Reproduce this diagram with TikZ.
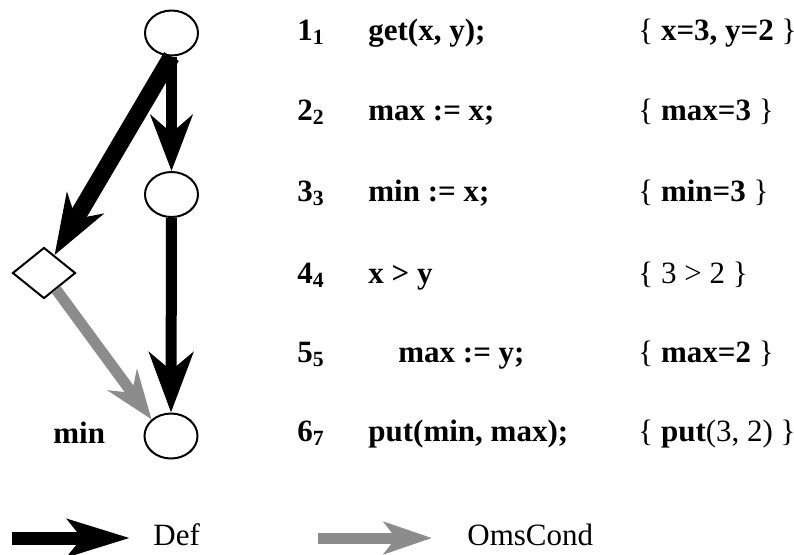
\documentclass[tikz,border=0pt]{standalone}
\usepackage{fontspec}
\setmainfont{Liberation Serif}
\usetikzlibrary{arrows.meta,shapes.geometric}

\tikzset{
	txt/.style={inner sep=0pt,font=\fontsize{15.5}{18}\selectfont},
	code/.style={txt,anchor=base west,font=\fontsize{15.5}{18}\selectfont\bfseries},
	stmt/.style={ellipse,draw,line width=1pt,minimum width=26.5pt,minimum height=22.5pt,inner sep=0pt},
	cond/.style={diamond,draw,line width=1pt,minimum width=31.5pt,minimum height=25.5pt,inner sep=0pt},
	def/.style={line width=5.25pt,-{Stealth[length=28pt,width=21pt,inset=9pt]}},
	oms/.style={black!45,line width=5.5pt,-{Stealth[length=24.5pt,width=18pt,inset=8pt]}}
}

\begin{document}
\begin{tikzpicture}[x=0.5pt,y=-0.5pt]
		\useasboundingbox (0,0) rectangle (794,554);

		% >>> nodes of the graph
		\node[stmt] (e1) at (171.5,33) {};
		\node[stmt] (e3) at (171.5,194.5) {};
		\node[cond] (d4) at (44,273) {};
		\node[stmt] (e6) at (171,436) {};
		\node[code] (lmin) at (53,443) {min};
		% <<< nodes of the graph

		% >>> def edges
		\draw[def] (e1.south) -- (e3.north);
		\draw[def,line width=8.5pt,-{Stealth[length=30pt,width=21pt,inset=9pt]}] (e1.south) -- (d4);
		\draw[def,line width=5.5pt,-{Stealth[length=30pt,width=22pt,inset=9pt]}] (e3.south) -- (e6.north);
		% <<< def edges

		% >>> omscond edge
		\draw[oms] (d4) -- (e6.north west);
		% <<< omscond edge

		% >>> program lines
		\node[code] (n1) at (297,40) {1\textsubscript{1}};
		\node[code] (s1) at (368,40) {get(x, y);};
		\node[code] (a1) at (638,40) {\mdseries\{ \bfseries x=3, y=2 \mdseries\}};

		\node[code] (n2) at (297,120) {2\textsubscript{2}};
		\node[code] (s2) at (368,120) {max := x;};
		\node[code] (a2) at (638,120) {\mdseries\{ \bfseries max=3 \mdseries\}};

		\node[code] (n3) at (297,201) {3\textsubscript{3}};
		\node[code] (s3) at (368,201) {min := x;};
		\node[code] (a3) at (638,201) {\mdseries\{ \bfseries min=3 \mdseries\}};

		\node[code] (n4) at (297,283) {4\textsubscript{4}};
		\node[code] (s4) at (368,283) {x > y};
		\node[code] (a4) at (638,283) {\mdseries\{ 3 > 2 \}};

		\node[code] (n5) at (297,362) {5\textsubscript{5}};
		\node[code] (s5) at (398,362) {max := y;};
		\node[code] (a5) at (638,362) {\mdseries\{ \bfseries max=2 \mdseries\}};

		\node[code] (n6) at (297,441) {6\textsubscript{7}};
		\node[code] (s6) at (368,441) {put(min, max);};
		\node[code] (a6) at (638,441) {\mdseries\{ \bfseries put\mdseries(3, 2) \}};
		% <<< program lines

		% >>> legend
		\coordinate (defa) at (12,538);
		\coordinate (defb) at (130,538);
		\draw[def,line width=6.5pt,-{Stealth[length=31pt,width=18.5pt,inset=7pt]}] (defa) -- (defb);
		\node[txt,anchor=base west] (ldef) at (153,545) {Def};

		\coordinate (omsa) at (318,538);
		\coordinate (omsb) at (432,538);
		\draw[oms,-{Stealth[length=24pt,width=16pt,inset=6pt]}] (omsa) -- (omsb);
		\node[txt,anchor=base west] (loms) at (467,545) {OmsCond};
		% <<< legend
	\end{tikzpicture}
\end{document}
